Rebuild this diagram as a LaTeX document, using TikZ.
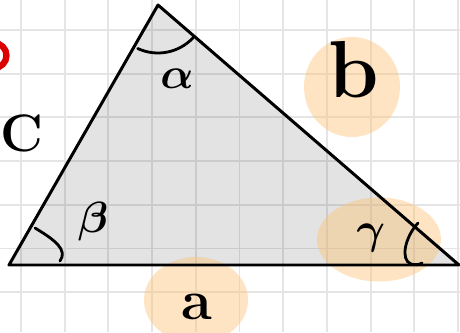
\documentclass[tikz,border=0pt]{standalone}
\definecolor{pesca}{RGB}{253,196,120}
\definecolor{rosso}{RGB}{220,0,0}
\begin{document}
\begin{tikzpicture}[
			x=0.02cm, y=0.02cm,
			lato/.style={line width=1.7pt, line cap=round, line join=round, black},
			arco/.style={line width=1.6pt, line cap=round, black},
			griglia/.style={line width=1.1pt, gray!20},
			macchia/.style={fill=pesca, fill opacity=0.45, draw=none},
			etichetta/.style={inner sep=0pt, text=black},
			]
			\useasboundingbox (0,0) rectangle (460,332);
			\fill[white] (0,0) rectangle (460,332);
			
			% griglia del quaderno
			\foreach \gx in {0,...,10}
				\draw[griglia] ({21+43.7*\gx},0) -- ({21+43.7*\gx},332);
			\foreach \gy in {0,...,6}
				\draw[griglia] (0,{302-43.7*\gy}) -- (460,{302-43.7*\gy});
			
			% cerchio rosso tagliato
			\draw[line width=3.6pt, rosso] (-6,276.5) circle (12.5);
			
			\coordinate (A) at (158,327); % vertice alpha
			\coordinate (B) at (9,67);    % vertice beta
			\coordinate (G) at (459,67);  % vertice gamma
			
			% triangolo
			\fill[black, fill opacity=0.11] (A) -- (B) -- (G) -- cycle;
			
			% macchie evidenziate
			\fill[macchia] (352,245) ellipse (48 and 50);
			\fill[macchia] (379,92.5) ellipse (62 and 42);
			\fill[macchia] (196,32) ellipse (52 and 43);
			
			\draw[lato] (A) -- (B) -- (G) -- cycle;
			
			% angoli
			\draw[arco] (A) ++(245:48) arc (245:317:48);
			\draw[arco] (35,104) .. controls (55,92) and (68,82) .. (60,71);
			\draw[arco] (418,109) .. controls (405,95) and (400,72) .. (411,68)
				.. controls (415,67) and (419,67) .. (422,69);
			
			% etichette
			\node[etichetta, font=\fontsize{30}{30}\selectfont\bfseries] (lblC) at (22,199) {C};
			\node[etichetta, font=\fontsize{46}{46}\selectfont\bfseries] (lblb) at (354,262) {b};
			\node[etichetta, font=\fontsize{32}{32}\selectfont\bfseries] (lbla) at (197,25) {a};
			\node[etichetta, font=\fontsize{30}{30}\selectfont\boldmath] (lblalpha) at (177,253) {$\alpha$};
			\node[etichetta, font=\fontsize{30}{30}\selectfont\boldmath] (lblbeta) at (93,110) {$\beta$};
			\node[etichetta, font=\fontsize{30}{30}\selectfont\boldmath] (lblgamma) at (371,94) {$\gamma$};
			
		\end{tikzpicture}
\end{document}
